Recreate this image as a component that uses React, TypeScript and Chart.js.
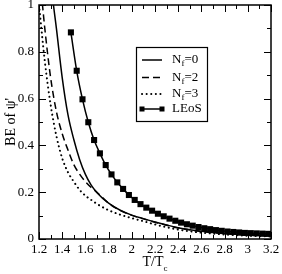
import { useEffect, useRef } from 'react';
import { Chart, registerables } from 'chart.js';

Chart.register(...registerables);

const FONT = "'Liberation Serif'";

// LEoS (markers)
const xLEoS = [1.475, 1.525, 1.575, 1.625, 1.675, 1.725, 1.775, 1.825, 1.875, 1.925, 1.975, 2.025, 2.075, 2.125, 2.175, 2.225, 2.275, 2.325, 2.375, 2.425, 2.475, 2.525, 2.575, 2.625, 2.675, 2.725, 2.775, 2.825, 2.875, 2.925, 2.975, 3.025, 3.075, 3.125, 3.175];
const yLEoS = [0.883, 0.719, 0.597, 0.499, 0.423, 0.366, 0.316, 0.276, 0.242, 0.214, 0.188, 0.167, 0.149, 0.134, 0.121, 0.108, 0.097, 0.087, 0.078, 0.070, 0.063, 0.057, 0.051, 0.046, 0.042, 0.038, 0.035, 0.032, 0.030, 0.028, 0.026, 0.025, 0.024, 0.023, 0.022];

// N_f = 0 (solid)
const xNf0 = [1.3, 1.32, 1.35, 1.4, 1.45, 1.5, 1.55, 1.6, 1.65, 1.7, 1.8, 1.9, 2.0, 2.1, 2.2, 2.3, 2.4, 2.5, 2.6, 2.7, 2.8, 2.9, 3.0, 3.1, 3.2];
const yNf0 = [1.12, 1.02, 0.9, 0.69, 0.53, 0.425, 0.34, 0.276, 0.23, 0.198, 0.153, 0.123, 0.102, 0.087, 0.073, 0.06, 0.048, 0.04, 0.033, 0.028, 0.024, 0.02, 0.018, 0.016, 0.014];

// N_f = 2 (dashed)
const xNf2 = [1.21, 1.23, 1.25, 1.3, 1.35, 1.4, 1.45, 1.5, 1.55, 1.6, 1.65, 1.7, 1.8, 1.9, 2.0, 2.1, 2.2, 2.3, 2.4, 2.5, 2.6, 2.7, 2.8, 2.9, 3.0, 3.1, 3.2];
const yNf2 = [1.1, 1.0, 0.9, 0.69, 0.545, 0.45, 0.38, 0.318, 0.277, 0.245, 0.22, 0.2, 0.153, 0.122, 0.101, 0.086, 0.072, 0.059, 0.047, 0.039, 0.032, 0.027, 0.023, 0.02, 0.017, 0.015, 0.013];

// N_f = 3 (dotted)
const xNf3 = [1.2, 1.25, 1.3, 1.35, 1.4, 1.45, 1.5, 1.55, 1.6, 1.65, 1.7, 1.8, 1.9, 2.0, 2.1, 2.2, 2.3, 2.4, 2.5, 2.6, 2.7, 2.8, 2.9, 3.0, 3.1, 3.2];
const yNf3 = [1.0, 0.76, 0.575, 0.44, 0.345, 0.285, 0.245, 0.21, 0.185, 0.167, 0.15, 0.123, 0.104, 0.089, 0.076, 0.062, 0.05, 0.04, 0.033, 0.027, 0.023, 0.019, 0.016, 0.014, 0.012, 0.011];

const xTickValues = [1.2, 1.4, 1.6, 1.8, 2.0, 2.2, 2.4, 2.6, 2.8, 3.0, 3.2];
const xTickLabels = ['1.2', '1.4', '1.6', '1.8', '2', '2.2', '2.4', '2.6', '2.8', '3', '3.2'];
const yTickValues = [0, 0.2, 0.4, 0.6, 0.8, 1.0];
const yTickLabels = ['0', '0.2', '0.4', '0.6', '0.8', '1'];

const legendMain = ['N', 'N', 'N', 'LEoS'];
const legendSub = ['f', 'f', 'f', ''];
const legendRest = ['=0', '=2', '=3', ''];

const xTitleMain = 'T/T';
const xTitleSub = 'c';
const yTitle = "BE of \u03C8'";

function pts(xs: number[], ys: number[]) {
  return xs.map((x, i) => ({ x, y: ys[i] }));
}

function midpoints(v: number[]) {
  const out: number[] = [];
  for (let i = 0; i < v.length - 1; i++) out.push((v[i] + v[i + 1]) / 2);
  return out;
}

const decor = {
  id: 'decor',
  afterDraw(chart: any) {
    const { ctx, chartArea: a, scales } = chart;
    const sx = scales.x;
    const sy = scales.y;
    ctx.save();
    ctx.strokeStyle = '#000';
    ctx.fillStyle = '#000';

    // inward ticks
    ctx.lineWidth = 1;
    const major = 7;
    const minor = 4;
    const drawX = (v: number, len: number) => {
      const px = Math.round(sx.getPixelForValue(v)) + 0.5;
      ctx.beginPath();
      ctx.moveTo(px, a.bottom);
      ctx.lineTo(px, a.bottom - len);
      ctx.moveTo(px, a.top);
      ctx.lineTo(px, a.top + len);
      ctx.stroke();
    };
    const drawY = (v: number, len: number) => {
      const py = Math.round(sy.getPixelForValue(v)) + 0.5;
      ctx.beginPath();
      ctx.moveTo(a.left, py);
      ctx.lineTo(a.left + len, py);
      ctx.moveTo(a.right, py);
      ctx.lineTo(a.right - len, py);
      ctx.stroke();
    };
    xTickValues.forEach((v) => drawX(v, major));
    midpoints(xTickValues).forEach((v) => drawX(v, minor));
    yTickValues.forEach((v) => drawY(v, major));
    midpoints(yTickValues).forEach((v) => drawY(v, minor));

    // frame
    ctx.lineWidth = 1.5;
    ctx.strokeRect(a.left, a.top, a.right - a.left, a.bottom - a.top);

    // legend
    const bx = a.left + 97;
    const by = a.top + 42;
    const bw = 71;
    const bh = 74;
    ctx.lineWidth = 1.2;
    ctx.strokeRect(bx + 0.5, by + 0.5, bw, bh);
    const rowY = [by + 13, by + 30.5, by + 47, by + 62];
    const x0 = bx + 6;
    const x1 = bx + 26;
    const styles = [
      { dash: [] as number[], cap: 'butt', w: 1.5 },
      { dash: [7, 4], cap: 'butt', w: 1.5 },
      { dash: [0.1, 4.5], cap: 'round', w: 2 },
      { dash: [] as number[], cap: 'butt', w: 1.5 },
    ];
    for (let i = 0; i < 4; i++) {
      const s = styles[i];
      ctx.save();
      ctx.lineWidth = s.w;
      ctx.setLineDash(s.dash);
      ctx.lineCap = s.cap;
      ctx.beginPath();
      ctx.moveTo(x0, rowY[i]);
      ctx.lineTo(x1, rowY[i]);
      ctx.stroke();
      ctx.restore();
      if (i === 3) {
        ctx.fillRect(x0 - 2.5, rowY[i] - 2.5, 5, 5);
        ctx.fillRect(x1 - 2.5, rowY[i] - 2.5, 5, 5);
      }
      const tx = bx + 36;
      ctx.textBaseline = 'middle';
      ctx.textAlign = 'left';
      ctx.font = `13px ${FONT}`;
      ctx.fillText(legendMain[i], tx, rowY[i]);
      let w = ctx.measureText(legendMain[i]).width;
      if (legendSub[i]) {
        ctx.font = `9px ${FONT}`;
        ctx.fillText(legendSub[i], tx + w, rowY[i] + 4);
        w += ctx.measureText(legendSub[i]).width;
        ctx.font = `13px ${FONT}`;
        ctx.fillText(legendRest[i], tx + w, rowY[i]);
      }
    }

    // x title
    ctx.font = `14px ${FONT}`;
    ctx.textBaseline = 'alphabetic';
    const wm = ctx.measureText(xTitleMain).width;
    ctx.font = `9px ${FONT}`;
    const ws = ctx.measureText(xTitleSub).width;
    const cx = (a.left + a.right) / 2 - (wm + ws) / 2;
    const ty = 266;
    ctx.font = `14px ${FONT}`;
    ctx.textAlign = 'left';
    ctx.fillText(xTitleMain, cx, ty);
    ctx.font = `9px ${FONT}`;
    ctx.fillText(xTitleSub, cx + wm, ty + 5);

    // y title
    ctx.save();
    ctx.translate(11, (a.top + a.bottom) / 2);
    ctx.rotate(-Math.PI / 2);
    ctx.font = `14px ${FONT}`;
    ctx.textAlign = 'center';
    ctx.textBaseline = 'middle';
    ctx.fillText(yTitle, 0, 0);
    ctx.restore();

    ctx.restore();
  },
};

export default function App() {
  const ref = useRef<HTMLCanvasElement | null>(null);
  useEffect(() => {
    if (!ref.current) return;
    const chart = new Chart(ref.current, {
      type: 'line',
      data: {
        datasets: [
          {
            label: 'Nf=0',
            data: pts(xNf0, yNf0),
            borderColor: '#000',
            borderWidth: 1.5,
            pointRadius: 0,
            cubicInterpolationMode: 'monotone',
            fill: false,
          },
          {
            label: 'Nf=2',
            data: pts(xNf2, yNf2),
            borderColor: '#000',
            borderWidth: 1.5,
            borderDash: [7, 4],
            pointRadius: 0,
            cubicInterpolationMode: 'monotone',
            fill: false,
          },
          {
            label: 'Nf=3',
            data: pts(xNf3, yNf3),
            borderColor: '#000',
            borderWidth: 2,
            borderDash: [0.1, 4.5],
            borderCapStyle: 'round',
            pointRadius: 0,
            cubicInterpolationMode: 'monotone',
            fill: false,
          },
          {
            label: 'LEoS',
            data: pts(xLEoS, yLEoS),
            borderColor: '#000',
            backgroundColor: '#000',
            borderWidth: 1.5,
            pointStyle: 'rect',
            pointRadius: 4.3,
            pointBorderWidth: 0,
            pointBackgroundColor: '#000',
            cubicInterpolationMode: 'monotone',
            fill: false,
          },
        ] as any,
      },
      options: {
        animation: false,
        responsive: true,
        maintainAspectRatio: false,
        layout: { padding: { top: 5, right: 11, left: 0, bottom: 0 } },
        plugins: { legend: { display: false }, tooltip: { enabled: false } },
        events: [],
        scales: {
          x: {
            type: 'linear',
            min: 1.2,
            max: 3.2,
            grid: { display: false, drawTicks: false },
            border: { display: false },
            afterBuildTicks: (s: any) => {
              s.ticks = xTickValues.map((v) => ({ value: v }));
            },
            afterFit: (s: any) => {
              s.height = 35;
              s.paddingLeft = 0;
              s.paddingRight = 0;
            },
            ticks: {
              padding: 3,
              maxRotation: 0,
              autoSkip: false,
              color: '#000',
              font: { family: FONT, size: 13 },
              callback: (_v: any, i: number) => xTickLabels[i],
            },
          },
          y: {
            type: 'linear',
            min: 0,
            max: 1,
            grid: { display: false, drawTicks: false },
            border: { display: false },
            afterBuildTicks: (s: any) => {
              s.ticks = yTickValues.map((v) => ({ value: v }));
            },
            afterFit: (s: any) => {
              s.width = 39;
              s.paddingTop = 0;
              s.paddingBottom = 0;
            },
            ticks: {
              padding: 5,
              autoSkip: false,
              color: '#000',
              font: { family: FONT, size: 13 },
              callback: (_v: any, i: number) => yTickLabels[i],
            },
          },
        },
      } as any,
      plugins: [decor],
    });
    return () => chart.destroy();
  }, []);
  return (
    <div style={{ position: 'fixed', left: 0, top: 0, width: 282, height: 274, background: '#fff' }}>
      <canvas ref={ref} />
    </div>
  );
}
